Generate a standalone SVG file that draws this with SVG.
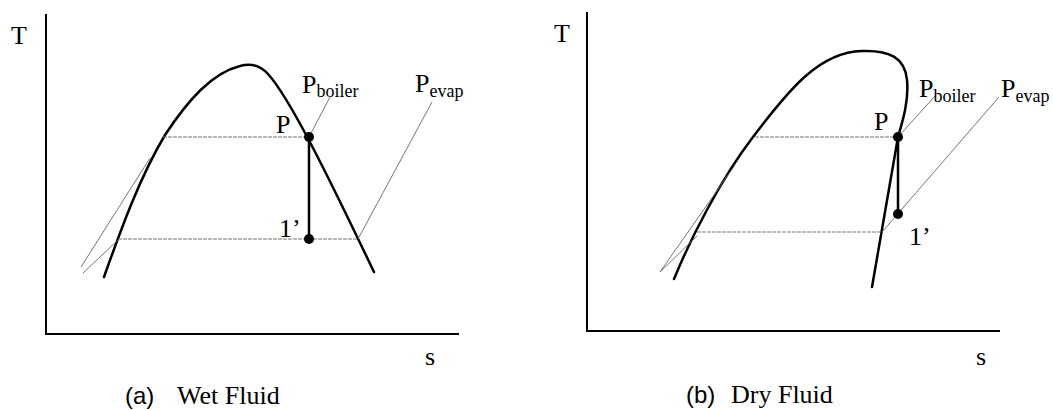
<svg xmlns="http://www.w3.org/2000/svg" width="1053" height="410" viewBox="0 0 1053 410">
<style>
.axis{fill:none;stroke:#000;stroke-width:2}
.dome{fill:none;stroke:#000;stroke-width:2.5;stroke-linejoin:round;stroke-linecap:round}
.thin{fill:none;stroke:#666;stroke-width:0.9}
.dash{fill:none;stroke:#777;stroke-width:1;stroke-dasharray:4 1}
.proc{fill:none;stroke:#000;stroke-width:2.5}
.pt{fill:#000}
.lbl{font-family:"Liberation Serif",serif;font-size:26px;fill:#000}
.sub{font-family:"Liberation Serif",serif;font-size:18px;fill:#000}
.cap{font-family:"Liberation Serif",serif;font-size:26px;fill:#000}
.capsans{font-family:"Liberation Sans",sans-serif;font-size:24px;fill:#000}
</style>
<rect width="1053" height="410" fill="#fff"/>

<g id="panel-a">
  <g id="axes-a">
    <polyline class="axis" points="46,14 46,334 459,334"/>
    <text class="lbl" x="11" y="44">T</text>
    <text class="lbl" x="425" y="365">s</text>
  </g>
  <g id="dome-a">
    <path class="dome" d="M104,277 C118,238 138,180 165,135 C188,100 212,73 240,66 C250,63 259,64 268,74 C290,98 330,180 374,272"/>
  </g>
  <g id="connectors-a">
    <line class="thin" x1="81" y1="267" x2="150" y2="158"/>
    <line class="thin" x1="83" y1="273" x2="118" y2="240"/>
    <line class="dash" x1="163" y1="137" x2="309" y2="137"/>
    <line class="dash" x1="118" y1="239" x2="358" y2="239"/>
    <line class="thin" x1="309" y1="137" x2="330" y2="97"/>
    <line class="thin" x1="358" y1="239" x2="432" y2="102"/>
    <line class="proc" x1="309" y1="137" x2="309" y2="239"/>
  </g>
  <g id="point-P-a">
    <circle class="pt" cx="309" cy="137" r="5"/>
    <text class="lbl" x="276" y="133">P</text>
  </g>
  <g id="point-1-a">
    <circle class="pt" cx="309" cy="239" r="5"/>
    <text class="lbl" x="279" y="237">1’</text>
  </g>
  <g id="label-pboiler-a">
    <text class="lbl" x="302" y="93">P<tspan class="sub" dy="4">boiler</tspan></text>
  </g>
  <g id="label-pevap-a">
    <text class="lbl" x="415" y="92">P<tspan class="sub" dy="5">evap</tspan></text>
  </g>
  <g id="caption-a">
    <text class="capsans" x="125" y="404">(a)</text>
    <text class="cap" x="177" y="404">Wet Fluid</text>
  </g>
</g>

<g id="panel-b">
  <g id="axes-b">
    <polyline class="axis" points="587,12 587,331 1000,331"/>
    <text class="lbl" x="554" y="42">T</text>
    <text class="lbl" x="976" y="365">s</text>
  </g>
  <g id="dome-b">
    <path class="dome" d="M674,279 C690,240 720,180 753,137 C790,88 820,52 862,51 C890,50 905,58 907,80 C909,100 903,120 898,137 L872,287"/>
  </g>
  <g id="connectors-b">
    <line class="thin" x1="660" y1="272" x2="735" y2="165"/>
    <line class="thin" x1="660" y1="272" x2="697" y2="236"/>
    <line class="dash" x1="755" y1="137" x2="898" y2="137"/>
    <line class="dash" x1="697" y1="232" x2="882" y2="232"/>
    <line class="thin" x1="898" y1="137" x2="935" y2="96"/>
    <line class="thin" x1="882" y1="232" x2="999" y2="97"/>
    <line class="proc" x1="898" y1="137" x2="898" y2="214"/>
  </g>
  <g id="point-P-b">
    <circle class="pt" cx="898" cy="137" r="5"/>
    <text class="lbl" x="874" y="130">P</text>
  </g>
  <g id="point-1-b">
    <circle class="pt" cx="898" cy="214" r="5"/>
    <text class="lbl" x="909" y="245">1’</text>
  </g>
  <g id="label-pboiler-b">
    <text class="lbl" x="919" y="97">P<tspan class="sub" dy="5">boiler</tspan></text>
  </g>
  <g id="label-pevap-b">
    <text class="lbl" x="1001" y="97">P<tspan class="sub" dy="5">evap</tspan></text>
  </g>
  <g id="caption-b">
    <text class="capsans" x="686" y="403">(b)</text>
    <text class="cap" x="731" y="403">Dry Fluid</text>
  </g>
</g>
</svg>
